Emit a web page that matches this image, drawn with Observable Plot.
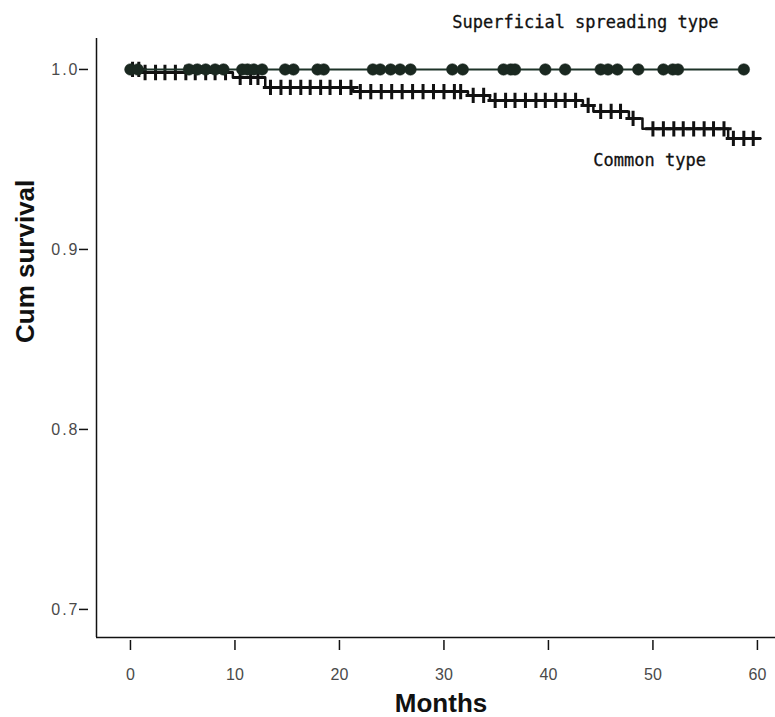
<!DOCTYPE html>
<html>
<head>
<meta charset="utf-8">
<script src="https://cdn.jsdelivr.net/npm/d3@7"></script>
<script src="https://cdn.jsdelivr.net/npm/@observablehq/plot@0.6"></script>
<style>
  html, body { margin: 0; padding: 0; background: #fff; }
  #chart svg g[aria-label="y-axis tick label"] text { fill: #4a4a4a; font-size: 16px; letter-spacing: 2px; }
  #chart svg g[aria-label="x-axis tick label"] text { fill: #4a4a4a; font-size: 16px; }
</style>
</head>
<body>
<div id="chart"></div>
<script>
// Common type: Kaplan–Meier steps (month, cumulative survival)
const commonMonths = [0, 1.0, 9.8, 12.9, 21.3, 32.3, 34.4, 43.3, 44.3, 47.7, 49.0, 57.2, 60.3];
const commonSurv   = [1.0, 0.9983, 0.9956, 0.9900, 0.9877, 0.9856, 0.9828, 0.9800, 0.9767, 0.9728, 0.9670, 0.9617, 0.9617];
// Common type censored cases (month)
const commonCensor = [0.2, 0.8, 1.4, 2.4, 3.3, 4.3, 5.3, 6.2, 7.2, 8.1, 9.1,
  10.5, 11.5, 12.2, 13.4, 14.4, 15.3, 16.3, 17.2, 18.2, 19.1, 20.1, 21.1,
  22.0, 23.0, 24.0, 25.0, 26.0, 27.0, 28.0, 29.0, 30.0, 31.0, 31.6,
  32.8, 33.8, 34.9, 35.9, 36.8, 37.8, 38.8, 39.7, 40.7, 41.6, 42.6,
  43.8, 45.0, 46.0, 46.9, 48.1, 50.0, 51.0, 52.0, 52.9, 53.9, 54.9, 55.8, 56.8,
  57.7, 58.7, 59.6];
// Superficial spreading type: no events
const ssMonths = [0, 58.8];
const ssSurv   = [1.0, 1.0];
const ssCensor = [0, 0.7, 5.6, 6.4, 7.2, 8.1, 8.9, 10.7, 11.2, 11.8, 12.6, 14.8, 15.6,
  17.9, 18.5, 23.2, 23.9, 24.9, 25.8, 26.8, 30.8, 31.8, 35.7, 36.4, 36.8, 39.7, 41.6,
  45.0, 45.7, 46.6, 48.6, 51.0, 51.9, 52.4, 58.7];

const xTicks = [0, 10, 20, 30, 40, 50, 60];
const yTicks = [0.7, 0.8, 0.9, 1.0];
const seriesLabels = ["Superficial spreading type", "Common type"];
const labelMonths = [30.8, 44.3];
const labelSurv = [1.026, 0.9494];

// survival at a given month for the common curve (step function)
function survAt(m) {
  let s = commonSurv[0];
  for (let i = 0; i < commonMonths.length; i++) if (commonMonths[i] <= m) s = commonSurv[i];
  return s;
}

const commonLine = commonMonths.map((m, i) => ({month: m, surv: commonSurv[i]}));
const commonCens = commonCensor.map(m => ({month: m, surv: survAt(m)}));
const ssLine = ssMonths.map((m, i) => ({month: m, surv: ssSurv[i]}));
const ssCens = ssCensor.map(m => ({month: m, surv: 1.0}));
const labels = seriesLabels.map((t, i) => ({text: t, month: labelMonths[i], surv: labelSurv[i]}));

const xDomain = [-3.25, 61.73];
const yDomain = [0.6844, 1.0172];

const chart = Plot.plot({
  width: 775,
  height: 717,
  marginLeft: 96,
  marginRight: 0,
  marginTop: 38,
  marginBottom: 80,
  style: {fontFamily: "'Liberation Sans', Arial, sans-serif", background: "#fff", color: "#111", overflow: "visible"},
  x: {domain: xDomain},
  y: {domain: yDomain},
  marks: [
    Plot.ruleX([xDomain[0]], {stroke: "#111", strokeWidth: 1.5}),
    Plot.ruleY([yDomain[0]], {stroke: "#111", strokeWidth: 1.5}),
    Plot.axisY({ticks: yTicks, tickFormat: d3.format(".1f"), tickSize: 9, tickPadding: 0, dx: -8, fontSize: 16, strokeWidth: 1.5, label: null}),
    Plot.axisX({ticks: xTicks, tickFormat: d3.format("d"), tickSize: 10, tickPadding: 18, dy: 3, fontSize: 16, strokeWidth: 1.5, label: null}),
    Plot.line(commonLine, {x: "month", y: "surv", curve: "step-after", stroke: "#111", strokeWidth: 2.5}),
    Plot.dot(commonCens, {x: "month", y: "surv", symbol: "plus", r: 5, stroke: "#111", strokeWidth: 3}),
    Plot.line(ssLine, {x: "month", y: "surv", curve: "step-after", stroke: "#1d3328", strokeWidth: 2}),
    Plot.dot(ssCens, {x: "month", y: "surv", r: 5.8, fill: "#1a2820", stroke: "#1a2820", strokeWidth: 0.5}),
    Plot.text(labels, {x: "month", y: "surv", text: "text", textAnchor: "start", fontFamily: "'DejaVu Sans Mono', monospace", fontSize: 17, fill: "#111", stroke: "#111", strokeWidth: 0.3, clip: false}),
    Plot.text(["Months"], {frameAnchor: "bottom", dx: 5, dy: 66, lineAnchor: "middle", fontSize: 26, fontWeight: "bold", fill: "#111"}),
    Plot.text(["Cum survival"], {frameAnchor: "left", dx: -71, dy: 5, rotate: -90, fontSize: 26, fontWeight: "bold", fill: "#111"})
  ]
});
document.getElementById("chart").appendChild(chart);
</script>
</body>
</html>
